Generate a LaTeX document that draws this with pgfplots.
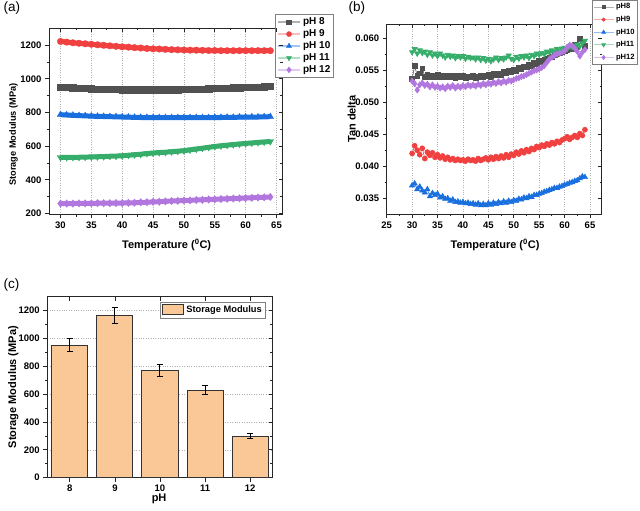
\documentclass[border=0pt]{standalone}
\usepackage{pgfplots}
\pgfplotsset{compat=1.18}
\usepackage{fontspec}
\setmainfont{Liberation Sans}
\definecolor{c1}{HTML}{515151}
\definecolor{c2}{HTML}{F14040}
\definecolor{c3}{HTML}{1A6FDF}
\definecolor{c4}{HTML}{37AD6B}
\definecolor{c5}{HTML}{B177DE}
\definecolor{peach}{HTML}{FAC896}
\newcommand{\tfont}{\fontsize{9.5}{10}\selectfont\bfseries}
\newcommand{\lfont}{\fontsize{11}{12}\selectfont\bfseries}
\pgfplotsset{
  every tick label/.append style={font=\tfont},
  /pgf/number format/1000 sep={},
  orig/.style={
    scale only axis, anchor=south west,
    axis line style={line width=0.9pt, black!85},
    tick style={line width=0.8pt, black!85},
    major tick length=4pt, minor tick length=2.2pt,
    tick align=outside, xtick pos=bottom, ytick pos=left,
    grid style={dotted, gray!60, line width=0.6pt},
    xticklabel style={font=\tfont}, yticklabel style={font=\tfont},
    xticklabel={\bfseries\pgfmathprintnumber[assume math mode=true]{\tick}},
    yticklabel={\bfseries\pgfmathprintnumber[assume math mode=true]{\tick}},
  },
  innerticks/.style={
    scale only axis, anchor=south west,
    axis line style={draw=none},
    tick style={line width=0.8pt, black!85},
    major tick length=4pt, minor tick length=2.2pt,
    tick align=inside, xtick pos=top, ytick pos=right,
    xticklabels={}, yticklabels={}, scaled ticks=false,
  },
}
\begin{document}
\begin{tikzpicture}
\useasboundingbox (0,0) rectangle (640pt,511pt);
% ---------------- (a) ----------------
\node[anchor=west, font=\fontsize{13.5}{14}\selectfont] at (0pt,502.7pt) {(a)};
\begin{axis}[orig, at={(49pt,296.5pt)}, width=233.5pt, height=186.2pt,
  /pgf/number format/assume math mode=true,
  xmin=28.14, xmax=65.97, ymin=194, ymax=1300,
  xtick={30,35,...,65}, ytick={200,400,...,1200},
  minor x tick num=1, minor y tick num=1, xmajorgrids,
  xlabel={Temperature (\textsuperscript{0}C)},
  ylabel={Storage Modulus (MPa)},
  every axis x label/.style={at={(axis description cs:0.504,-0.164)}, anchor=center, font=\lfont},
  every axis y label/.style={at={(axis description cs:-0.152,0.43)}, rotate=90, anchor=center, font=\fontsize{9.2}{10}\selectfont\bfseries},
  legend style={at={(axis description cs:0.968,1.077)}, anchor=north west, draw=gray, line width=0.8pt,
    fill=white, font=\fontsize{10}{11}\selectfont\bfseries, inner sep=1.5pt, row sep=-0.5pt,
    cells={anchor=west}},
  legend image code/.code={\draw[mark repeat=2,mark phase=2,#1] plot coordinates {(0pt,0pt) (11pt,0pt) (22pt,0pt)};},
]
\addplot[c1, line width=5pt, mark=square*, mark size=3.2pt, mark options={line width=0.3pt}, forget plot] coordinates {
(30,951) (31,949) (32,947) (33,945) (34,943) (35,941) (36,940) (37,939) (38,938) (39,937) (40,936) (41,936) (42,935) (43,935) (44,935) (45,935) (46,935) (47,935) (48,936) (49,936) (50,937) (51,938) (52,939) (53,940) (54,941) (55,943) (56,944) (57,945) (58,947) (59,948) (60,949) (61,951) (62,952) (63,953) (64,955)};
\addplot[c2, line width=5pt, mark=*, mark size=3.3pt, mark options={line width=0.3pt}, forget plot] coordinates {
(30,1222) (31,1218) (32,1214) (33,1211) (34,1208) (35,1205) (36,1202) (37,1199) (38,1196) (39,1193) (40,1190) (41,1188) (42,1185) (43,1183) (44,1180) (45,1178) (46,1177) (47,1175) (48,1173) (49,1172) (50,1171) (51,1170) (52,1170) (53,1169) (54,1168) (55,1168) (56,1167) (57,1167) (58,1167) (59,1167) (60,1167) (61,1167) (62,1167) (63,1167) (64,1167)};
\addplot[c3, line width=5pt, mark=triangle*, mark size=3.8pt, mark options={line width=0.3pt}, forget plot] coordinates {
(30,787) (31,785) (32,783) (33,781) (34,780) (35,778) (36,777) (37,776) (38,775) (39,774) (40,773) (41,772) (42,771) (43,770) (44,770) (45,769) (46,769) (47,769) (48,769) (49,769) (50,769) (51,769) (52,769) (53,769) (54,769) (55,770) (56,770) (57,771) (58,771) (59,772) (60,772) (61,773) (62,773) (63,774) (64,775)};
\addplot[c4, line width=5pt, mark=triangle*, mark size=3.8pt, mark options={line width=0.3pt, rotate=180}, forget plot] coordinates {
(30,533) (31,533) (32,534) (33,534) (34,535) (35,536) (36,537) (37,538) (38,540) (39,541) (40,543) (41,546) (42,549) (43,552) (44,556) (45,559) (46,562) (47,564) (48,567) (49,570) (50,573) (51,578) (52,583) (53,588) (54,593) (55,598) (56,602) (57,606) (58,609) (59,613) (60,616) (61,619) (62,622) (63,625) (64,628)};
\addplot[c5, line width=5pt, mark=diamond*, mark size=3.8pt, mark options={line width=0.3pt}, forget plot] coordinates {
(30,259) (31,259) (32,259) (33,260) (34,260) (35,260) (36,261) (37,261) (38,261) (39,262) (40,262) (41,263) (42,264) (43,266) (44,267) (45,269) (46,270) (47,272) (48,274) (49,275) (50,277) (51,278) (52,280) (53,281) (54,283) (55,284) (56,286) (57,287) (58,289) (59,290) (60,292) (61,293) (62,295) (63,296) (64,298)};
\addlegendimage{c1!45, line width=1.2pt, mark=square*, mark size=2.4pt, mark options={c1, line width=0.3pt}}
\addlegendentry{pH 8}
\addlegendimage{c2!35, line width=2.2pt, mark=*, mark size=2.6pt, mark options={c2, line width=0.3pt}}
\addlegendentry{pH 9}
\addlegendimage{c3!40, line width=1.2pt, mark=triangle*, mark size=3pt, mark options={c3, line width=0.3pt}}
\addlegendentry{pH 10}
\addlegendimage{c4!40, line width=1.2pt, mark=triangle*, mark size=3pt, mark options={c4, line width=0.3pt, rotate=180}}
\addlegendentry{pH 11}
\addlegendimage{c5!40, line width=1.2pt, mark=diamond*, mark size=3pt, mark options={c5, line width=0.3pt}}
\addlegendentry{pH 12}
\end{axis}
\begin{axis}[innerticks, at={(49pt,296.5pt)}, width=233.5pt, height=186.2pt,
  xmin=28.14, xmax=65.97, ymin=194, ymax=1300,
  xtick={30,35,...,65}, ytick={200,400,...,1200}, minor x tick num=1, minor y tick num=1]
\end{axis}
% ---------------- (b) ----------------
\node[anchor=west, font=\fontsize{13.5}{14}\selectfont] at (345pt,502.7pt) {(b)};
\begin{axis}[orig, at={(386.7pt,297pt)}, width=215pt, height=190pt,
  /pgf/number format/assume math mode=true,
  xmin=25, xmax=67.3, ymin=0.03255, ymax=0.0622,
  xtick={25,30,...,65}, ytick={0.035,0.040,...,0.0601},
  minor x tick num=1, minor y tick num=1, xmajorgrids,
  scaled y ticks=false,
  yticklabel={\bfseries\pgfmathprintnumber[assume math mode=true, fixed, fixed zerofill, precision=3]{\tick}},
  xlabel={Temperature (\textsuperscript{0}C)},
  ylabel={Tan delta},
  every axis x label/.style={at={(axis description cs:0.504,-0.163)}, anchor=center, font=\lfont},
  every axis y label/.style={at={(axis description cs:-0.163,0.5)}, rotate=90, anchor=center, font=\lfont},
  legend style={at={(axis description cs:0.953,1.126)}, anchor=north west, draw=gray, line width=0.8pt,
    fill=white, font=\fontsize{7.6}{8}\selectfont\bfseries, inner sep=1.2pt, row sep=1.8pt,
    cells={anchor=west}},
  legend image code/.code={\draw[mark repeat=2,mark phase=2,#1] plot coordinates {(0pt,0pt) (10pt,0pt) (20pt,0pt)};},
]
\addplot[c1, line width=0.6pt, mark=square*, mark size=2.4pt, forget plot] coordinates {
(30,0.0536) (30.5,0.0557) (31,0.0541) (31.5,0.0545) (32,0.0553) (32.5,0.0540) (33,0.0543) (33.5,0.0539) (34,0.0542) (34.5,0.0540) (35,0.0543) (35.5,0.0540) (36,0.0541) (36.5,0.0539) (37,0.0542) (37.5,0.0540) (38,0.0541) (38.5,0.0538) (39,0.0541) (39.5,0.0539) (40,0.0541) (40.5,0.0538) (41,0.0540) (41.5,0.0539) (42,0.0541) (42.5,0.0538) (43,0.0540) (43.5,0.0542) (44,0.0539) (44.5,0.0541) (45,0.0543) (45.5,0.0540) (46,0.0544) (46.5,0.0542) (47,0.0545) (47.5,0.0543) (48,0.0547) (48.5,0.0545) (49,0.0549) (49.5,0.0547) (50,0.0551) (50.5,0.0549) (51,0.0554) (51.5,0.0552) (52,0.0556) (52.5,0.0555) (53,0.0558) (53.5,0.0557) (54,0.0561) (54.5,0.0560) (55,0.0564) (55.5,0.0563) (56,0.0566) (56.5,0.0568) (57,0.0570) (57.5,0.0571) (58,0.0573) (58.5,0.0575) (59,0.0577) (59.5,0.0578) (60,0.0580) (60.5,0.0582) (61,0.0584) (61.5,0.0583) (62,0.0590) (62.5,0.0586) (63,0.0599) (63.5,0.0595) (64,0.0588)};
\addplot[c2, line width=0.6pt, mark=*, mark size=2.5pt, forget plot] coordinates {
(30,0.0420) (30.5,0.0432) (31,0.0425) (31.5,0.0418) (32,0.0428) (32.5,0.0412) (33,0.0422) (33.5,0.0417) (34,0.0421) (34.5,0.0414) (35,0.0418) (35.5,0.0413) (36,0.0416) (36.5,0.0411) (37,0.0414) (37.5,0.0410) (38,0.0412) (38.5,0.0409) (39,0.0411) (39.5,0.0409) (40,0.0410) (40.5,0.0408) (41,0.0411) (41.5,0.0409) (42,0.0410) (42.5,0.0408) (43,0.0412) (43.5,0.0409) (44,0.0411) (44.5,0.0413) (45,0.0410) (45.5,0.0414) (46,0.0411) (46.5,0.0415) (47,0.0412) (47.5,0.0416) (48,0.0413) (48.5,0.0418) (49,0.0414) (49.5,0.0419) (50,0.0417) (50.5,0.0422) (51,0.0419) (51.5,0.0424) (52,0.0421) (52.5,0.0426) (53,0.0423) (53.5,0.0428) (54,0.0426) (54.5,0.0431) (55,0.0429) (55.5,0.0433) (56,0.0431) (56.5,0.0435) (57,0.0433) (57.5,0.0437) (58,0.0435) (58.5,0.0439) (59,0.0437) (59.5,0.0441) (60,0.0443) (60.5,0.0446) (61,0.0442) (61.5,0.0445) (62,0.0448) (62.5,0.0445) (63,0.0451) (63.5,0.0448) (64,0.0457)};
\addplot[c3, line width=0.6pt, mark=triangle*, mark size=3pt, forget plot] coordinates {
(30,0.0370) (30.5,0.0373) (31,0.0364) (31.5,0.0368) (32,0.0362) (32.5,0.0359) (33,0.0364) (33.5,0.0353) (34,0.0358) (34.5,0.0355) (35,0.0357) (35.5,0.0351) (36,0.0353) (36.5,0.0349) (37,0.0350) (37.5,0.0346) (38,0.0348) (38.5,0.0344) (39,0.0345) (39.5,0.0343) (40,0.0344) (40.5,0.0342) (41,0.0343) (41.5,0.0341) (42,0.0342) (42.5,0.0340) (43,0.0342) (43.5,0.0339) (44,0.0341) (44.5,0.0339) (45,0.0342) (45.5,0.0340) (46,0.0343) (46.5,0.0341) (47,0.0344) (47.5,0.0342) (48,0.0345) (48.5,0.0343) (49,0.0346) (49.5,0.0344) (50,0.0347) (50.5,0.0346) (51,0.0349) (51.5,0.0348) (52,0.0351) (52.5,0.0350) (53,0.0353) (53.5,0.0352) (54,0.0355) (54.5,0.0355) (55,0.0357) (55.5,0.0358) (56,0.0360) (56.5,0.0361) (57,0.0363) (57.5,0.0364) (58,0.0366) (58.5,0.0366) (59,0.0368) (59.5,0.0369) (60,0.0371) (60.5,0.0372) (61,0.0374) (61.5,0.0375) (62,0.0377) (62.5,0.0378) (63,0.0381) (63.5,0.0384) (64,0.0383)};
\addplot[c4, line width=0.6pt, mark=triangle*, mark size=3pt, mark options={rotate=180}, forget plot] coordinates {
(30,0.0578) (30.5,0.0583) (31,0.0576) (31.5,0.0581) (32,0.0577) (32.5,0.0579) (33,0.0574) (33.5,0.0578) (34,0.0573) (34.5,0.0576) (35,0.0572) (35.5,0.0576) (36,0.0573) (36.5,0.0570) (37,0.0574) (37.5,0.0571) (38,0.0573) (38.5,0.0569) (39,0.0572) (39.5,0.0570) (40,0.0572) (40.5,0.0568) (41,0.0571) (41.5,0.0569) (42,0.0570) (42.5,0.0567) (43,0.0570) (43.5,0.0566) (44,0.0569) (44.5,0.0565) (45,0.0568) (45.5,0.0564) (46,0.0567) (46.5,0.0570) (47,0.0566) (47.5,0.0569) (48,0.0567) (48.5,0.0570) (49,0.0573) (49.5,0.0568) (50,0.0566) (50.5,0.0571) (51,0.0568) (51.5,0.0572) (52,0.0570) (52.5,0.0573) (53,0.0569) (53.5,0.0574) (54,0.0572) (54.5,0.0576) (55,0.0574) (55.5,0.0577) (56,0.0575) (56.5,0.0579) (57,0.0578) (57.5,0.0581) (58,0.0579) (58.5,0.0583) (59,0.0581) (59.5,0.0584) (60,0.0585) (60.5,0.0583) (61,0.0587) (61.5,0.0586) (62,0.0588) (62.5,0.0590) (63,0.0587) (63.5,0.0592) (64,0.0596)};
\addplot[c5, line width=0.6pt, mark=diamond*, mark size=3pt, forget plot] coordinates {
(30,0.0533) (30.5,0.0529) (31,0.0519) (31.5,0.0527) (32,0.0530) (32.5,0.0526) (33,0.0528) (33.5,0.0524) (34,0.0527) (34.5,0.0523) (35,0.0525) (35.5,0.0522) (36,0.0524) (36.5,0.0521) (37,0.0525) (37.5,0.0523) (38,0.0526) (38.5,0.0522) (39,0.0525) (39.5,0.0523) (40,0.0526) (40.5,0.0524) (41,0.0527) (41.5,0.0525) (42,0.0527) (42.5,0.0525) (43,0.0528) (43.5,0.0526) (44,0.0529) (44.5,0.0527) (45,0.0530) (45.5,0.0528) (46,0.0531) (46.5,0.0529) (47,0.0532) (47.5,0.0530) (48,0.0533) (48.5,0.0531) (49,0.0534) (49.5,0.0533) (50,0.0535) (50.5,0.0537) (51,0.0538) (51.5,0.0540) (52,0.0541) (52.5,0.0543) (53,0.0545) (53.5,0.0547) (54,0.0549) (54.5,0.0550) (55,0.0552) (55.5,0.0554) (56,0.0557) (56.5,0.0562) (57,0.0567) (57.5,0.0570) (58,0.0573) (58.5,0.0575) (59,0.0576) (59.5,0.0578) (60,0.0580) (60.5,0.0586) (61,0.0589) (61.5,0.0588) (62,0.0584) (62.5,0.0579) (63,0.0572) (63.5,0.0578) (64,0.0582)};
\addlegendimage{c1!45, line width=0.8pt, mark=square*, mark size=1.6pt, mark options={c1}}
\addlegendentry{pH8}
\addlegendimage{c2!45, line width=0.8pt, mark=*, mark size=1.6pt, mark options={c2}}
\addlegendentry{pH9}
\addlegendimage{c3!45, line width=0.8pt, mark=triangle*, mark size=2pt, mark options={c3}}
\addlegendentry{pH10}
\addlegendimage{c4!45, line width=0.8pt, mark=triangle*, mark size=2pt, mark options={c4, rotate=180}}
\addlegendentry{pH11}
\addlegendimage{c5!45, line width=0.8pt, mark=diamond*, mark size=2pt, mark options={c5}}
\addlegendentry{pH12}
\end{axis}
\begin{axis}[innerticks, at={(386.7pt,297pt)}, width=215pt, height=190pt,
  xmin=25, xmax=67.3, ymin=0.03255, ymax=0.0622,
  xtick={25,30,...,65}, ytick={0.035,0.040,...,0.0601}, minor x tick num=1, minor y tick num=1]
\end{axis}
% ---------------- (c) ----------------
\node[anchor=west, font=\fontsize{13.5}{14}\selectfont] at (0pt,226pt) {(c)};
\begin{axis}[orig, at={(47.3pt,33.3pt)}, width=225.4pt, height=181pt,
  /pgf/number format/assume math mode=true,
  xmin=7.5, xmax=12.5, ymin=0, ymax=1300,
  xtick={8,9,10,11,12}, ytick={0,200,...,1200},
  minor y tick num=1, ymajorgrids,
  ybar, bar width=0.8, bar shift=0pt,
  xlabel={pH},
  ylabel={Storage Modulus (MPa)},
  every axis x label/.style={at={(axis description cs:0.496,-0.115)}, anchor=center, font=\lfont},
  every axis y label/.style={at={(axis description cs:-0.151,0.5)}, rotate=90, anchor=center, font=\lfont},
  legend style={at={(axis description cs:0.969,0.969)}, anchor=north east, draw=gray, line width=0.8pt,
    fill=white, font=\fontsize{9.3}{10}\selectfont\bfseries, inner sep=1.5pt},
  legend image code/.code={\draw[fill=peach, draw=black!80, line width=1pt] (0pt,-4.5pt) rectangle (21pt,5.5pt);},
]
\addplot[fill=peach, draw=black!80, line width=1pt,
  error bars/.cd, y dir=both, y explicit,
  error bar style={line width=1pt, black},
  error mark options={rotate=90, mark size=3.3pt, line width=1pt, black}]
  coordinates {(8,953) +- (0,47) (9,1165) +- (0,58) (10,770) +- (0,42) (11,628) +- (0,31) (12,299) +- (0,15)};
\addlegendentry{Storage Modulus}
\end{axis}
\begin{axis}[innerticks, at={(47.3pt,33.3pt)}, width=225.4pt, height=181pt,
  xmin=7.5, xmax=12.5, ymin=0, ymax=1300,
  xtick={8,9,10,11,12}, ytick={0,200,...,1200}, minor y tick num=1]
\end{axis}
\end{tikzpicture}
\end{document}
